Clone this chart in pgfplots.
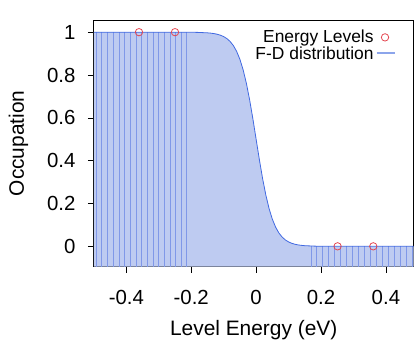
\documentclass[border=0pt]{standalone}
\usepackage{pgfplots}
\pgfplotsset{compat=1.18}
\usepackage{pgfplotstable}
\usepackage{fontspec}
\setmainfont{Liberation Sans}
\definecolor{fillblue}{RGB}{190,203,241}
\definecolor{lineblue}{RGB}{128,152,232}
\definecolor{curveblue}{RGB}{65,105,225}
\definecolor{legblue}{RGB}{140,165,235}
\definecolor{markred}{RGB}{228,70,80}
\pgfplotstableread{
x y
-0.5 1
-0.25 0.99994
-0.2 0.99956
-0.18 0.99904
-0.15 0.99696
-0.14 0.99553
-0.13 0.99343
-0.12 0.99036
-0.11 0.98590
-0.10 0.97938
-0.09 0.96996
-0.08 0.95643
-0.07 0.93722
-0.06 0.91026
-0.05 0.87328
-0.04 0.82406
-0.03 0.76098
-0.02 0.68395
-0.01 0.59531
0 0.5
0.01 0.40469
0.02 0.31605
0.03 0.23902
0.04 0.17594
0.05 0.12672
0.06 0.08974
0.07 0.06278
0.08 0.04357
0.09 0.03004
0.10 0.02062
0.11 0.01410
0.12 0.00964
0.13 0.00657
0.14 0.00447
0.15 0.00304
0.18 0.00096
0.2 0.00044
0.25 0.00006
0.485 0
}\fdtable
\pgfplotstableread{
x y
-0.5 -0.095
-0.5 1
-0.25 0.99994
-0.2 0.99956
-0.18 0.99904
-0.15 0.99696
-0.14 0.99553
-0.13 0.99343
-0.12 0.99036
-0.11 0.98590
-0.10 0.97938
-0.09 0.96996
-0.08 0.95643
-0.07 0.93722
-0.06 0.91026
-0.05 0.87328
-0.04 0.82406
-0.03 0.76098
-0.02 0.68395
-0.01 0.59531
0 0.5
0.01 0.40469
0.02 0.31605
0.03 0.23902
0.04 0.17594
0.05 0.12672
0.06 0.08974
0.07 0.06278
0.08 0.04357
0.09 0.03004
0.10 0.02062
0.11 0.01410
0.12 0.00964
0.13 0.00657
0.14 0.00447
0.15 0.00304
0.18 0.00096
0.2 0.00044
0.25 0.00006
0.485 0
0.485 -0.095
}\filltable
\pgfplotstableread{
x y
-0.4925 1
-0.4750 1
-0.4575 1
-0.4400 1
-0.4225 1
-0.4050 1
-0.3875 1
-0.3700 1
-0.3525 1
-0.3350 1
-0.3175 1
-0.3000 1
-0.2825 1
-0.2650 1
-0.2475 1
-0.2300 1
-0.2150 1
-0.4925 -0.095
-0.4750 -0.095
-0.4575 -0.095
-0.4400 -0.095
-0.4225 -0.095
-0.4050 -0.095
-0.3875 -0.095
-0.3700 -0.095
-0.3525 -0.095
-0.3350 -0.095
-0.3175 -0.095
-0.3000 -0.095
-0.2825 -0.095
-0.2650 -0.095
-0.2475 -0.095
-0.2300 -0.095
-0.2150 -0.095
0.1700 -0.095
0.1850 -0.095
0.2035 -0.095
0.2220 -0.095
0.2405 -0.095
0.2590 -0.095
0.2775 -0.095
0.2960 -0.095
0.3145 -0.095
0.3330 -0.095
0.3515 -0.095
0.3700 -0.095
0.3885 -0.095
0.4070 -0.095
0.4255 -0.095
0.4440 -0.095
0.4625 -0.095
0.4810 -0.095
}\combtable
\begin{document}
\begin{tikzpicture}
\begin{axis}[name=ax,
  scale only axis, width=320bp, height=247bp,
  xmin=-0.5, xmax=0.485, ymin=-0.095, ymax=1.057,
  xtick={-0.4,-0.2,0,0.2,0.4}, ytick={0,0.2,0.4,0.6,0.8,1},
  xticklabels={-0.4,-0.2,0,0.2,0.4}, yticklabels={0,0.2,0.4,0.6,0.8,1},
  tick align=outside, major tick length=6bp,
  xtick pos=bottom, ytick pos=left,
  tick style={black, line width=0.6bp},
  axis line style={black, line width=0.8bp},
  ticklabel style={font=\fontsize{20.5}{24}\selectfont},
  xticklabel style={yshift=-14bp},
  yticklabel style={xshift=-9bp},
  xlabel={Level Energy (eV)}, ylabel={Occupation},
  label style={font=\fontsize{21}{25}\selectfont},
  xlabel style={yshift=-9bp},
  ylabel style={yshift=12bp},
  legend style={at={(rel axis cs:0.955,0.975)}, anchor=north east, draw=none, fill=none,
     font=\fontsize{17.5}{20}\selectfont, row sep=-2bp},
  legend cell align=right,
  legend plot pos=right,
  reverse legend,
]
\addplot[fill=fillblue, draw=none, forget plot] table {\filltable};
\addplot[ycomb, color=lineblue, line width=1bp, mark=none, forget plot] table {\combtable};
\addplot[color=curveblue, line width=0.8bp, mark=none,
  legend image code/.code={\draw[legblue, line width=2bp] (0cm,0cm) -- (0.65cm,0cm);}] table {\fdtable};
\addlegendentry{F-D distribution}
\addplot[only marks, mark=o, mark size=3.7bp, color=markred, line width=0.8bp] coordinates {
(-0.361,1) (-0.250,1) (0.251,0) (0.361,0)
};
\addlegendentry{Energy Levels}
\end{axis}
\path (ax.south west) ++(-94bp,-77bp) coordinate (bbA);
\path (ax.north east) ++(0.5bp,20bp) coordinate (bbB);
\pgfresetboundingbox
\path[use as bounding box] (bbA) rectangle (bbB);
\end{tikzpicture}
\end{document}
